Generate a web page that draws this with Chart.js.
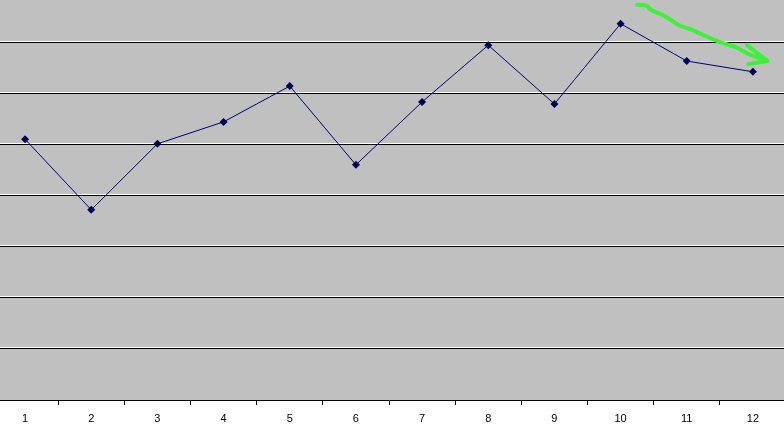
<!DOCTYPE html>
<html>
<head>
<meta charset="utf-8">
<script src="https://cdn.jsdelivr.net/npm/chart.js@4/dist/chart.umd.min.js"></script>
<style>
  html, body { margin: 0; padding: 0; background: #fff; width: 784px; height: 431px; overflow: hidden; position: relative; }
  #wrap { position: absolute; left: -8px; top: -9px; width: 794px; height: 440px; }
</style>
</head>
<body>
<div id="wrap"><canvas id="c" width="794" height="440"></canvas></div>
<script>
// ---- data ----
const categories = ['1','2','3','4','5','6','7','8','9','10','11','12'];
const values = [5.10, 3.72, 5.01, 5.44, 6.14, 4.60, 5.83, 6.94, 5.79, 7.36, 6.63, 6.42];
const yTicks = [0,1,2,3,4,5,6,7,8];
// hand-drawn green arrow annotation (category index, value)
const arrowStrokeX = [9.25, 9.40, 9.44, 9.57, 9.72, 9.87, 10.08, 10.25, 10.50, 10.76, 10.96, 11.21];
const arrowStrokeY = [7.73, 7.71, 7.65, 7.57, 7.47, 7.34, 7.24, 7.14, 7.00, 6.89, 6.75, 6.65];
const arrowHeadX = [10.91, 11.22, 10.93];
const arrowHeadY = [6.94, 6.63, 6.57];

const pts = (xs, ys) => xs.map((x, i) => ({x, y: ys[i]}));

const plotBg = {
  id: 'plotBg',
  beforeDraw(chart) {
    const {ctx, chartArea: a} = chart;
    ctx.save();
    ctx.fillStyle = '#C0C0C0';
    ctx.fillRect(a.left, a.top, a.right - a.left, a.bottom - a.top);
    ctx.restore();
  },
  beforeDatasetsDraw(chart) {
    const {ctx, chartArea: a} = chart;
    const ys = chart.scales.y;
    ctx.save();
    ctx.strokeStyle = '#FFFFFF';
    ctx.lineWidth = 1;
    ys.ticks.forEach(t => {
      if (t.value <= 0 || t.value >= 8) return;
      const p = Math.round(ys.getPixelForValue(t.value) - 0.5) + 0.5 - 1;
      ctx.beginPath();
      ctx.moveTo(a.left, p);
      ctx.lineTo(a.right, p);
      ctx.stroke();
    });
    ctx.restore();
  }
};

new Chart(document.getElementById('c'), {
  type: 'line',
  data: {
    labels: categories,
    datasets: [
      {
        data: values,
        borderColor: '#000070',
        borderWidth: 1,
        pointStyle: 'rectRot',
        pointRadius: 4,
        pointBackgroundColor: '#000050',
        pointBorderColor: '#000050',
        pointBorderWidth: 0,
        tension: 0,
        xAxisID: 'x',
        order: 2
      },
      {
        data: pts(arrowStrokeX, arrowStrokeY),
        xAxisID: 'xa',
        borderColor: '#3EF03A',
        borderWidth: 4,
        pointRadius: 0,
        cubicInterpolationMode: 'monotone',
        borderCapStyle: 'round',
        borderJoinStyle: 'round',
        order: 1
      },
      {
        data: pts(arrowHeadX, arrowHeadY),
        xAxisID: 'xa',
        borderColor: '#3EF03A',
        borderWidth: 4,
        pointRadius: 0,
        tension: 0,
        borderCapStyle: 'round',
        borderJoinStyle: 'round',
        order: 1
      }
    ]
  },
  options: {
    responsive: false,
    animation: false,
    devicePixelRatio: 1,
    layout: { padding: 0, autoPadding: false },
    plugins: { legend: { display: false }, tooltip: { enabled: false } },
    scales: {
      x: {
        type: 'category',
        offset: true,
        grid: { offset: true, drawOnChartArea: false, drawTicks: true, tickLength: 5, color: '#000', lineWidth: 1 },
        border: { display: true, color: '#000', width: 1 },
        ticks: { color: '#000', font: { family: 'Liberation Sans', size: 11 }, padding: 7, maxRotation: 0, autoSkip: false },
        afterFit(s) { s.height = 31; }
      },
      xa: {
        type: 'linear',
        display: false,
        min: -0.5,
        max: 11.5
      },
      y: {
        min: 0,
        max: 8,
        afterBuildTicks(s) { s.ticks = yTicks.map(v => ({value: v})); },
        ticks: { display: false },
        grid: { drawTicks: false, color: (c) => (c.tick && c.tick.value > 0 && c.tick.value < 8) ? '#000' : 'rgba(0,0,0,0)', lineWidth: 1 },
        border: { display: false },
        afterFit(s) { s.width = 0; }
      }
    }
  },
  plugins: [plotBg]
});
</script>
</body>
</html>
